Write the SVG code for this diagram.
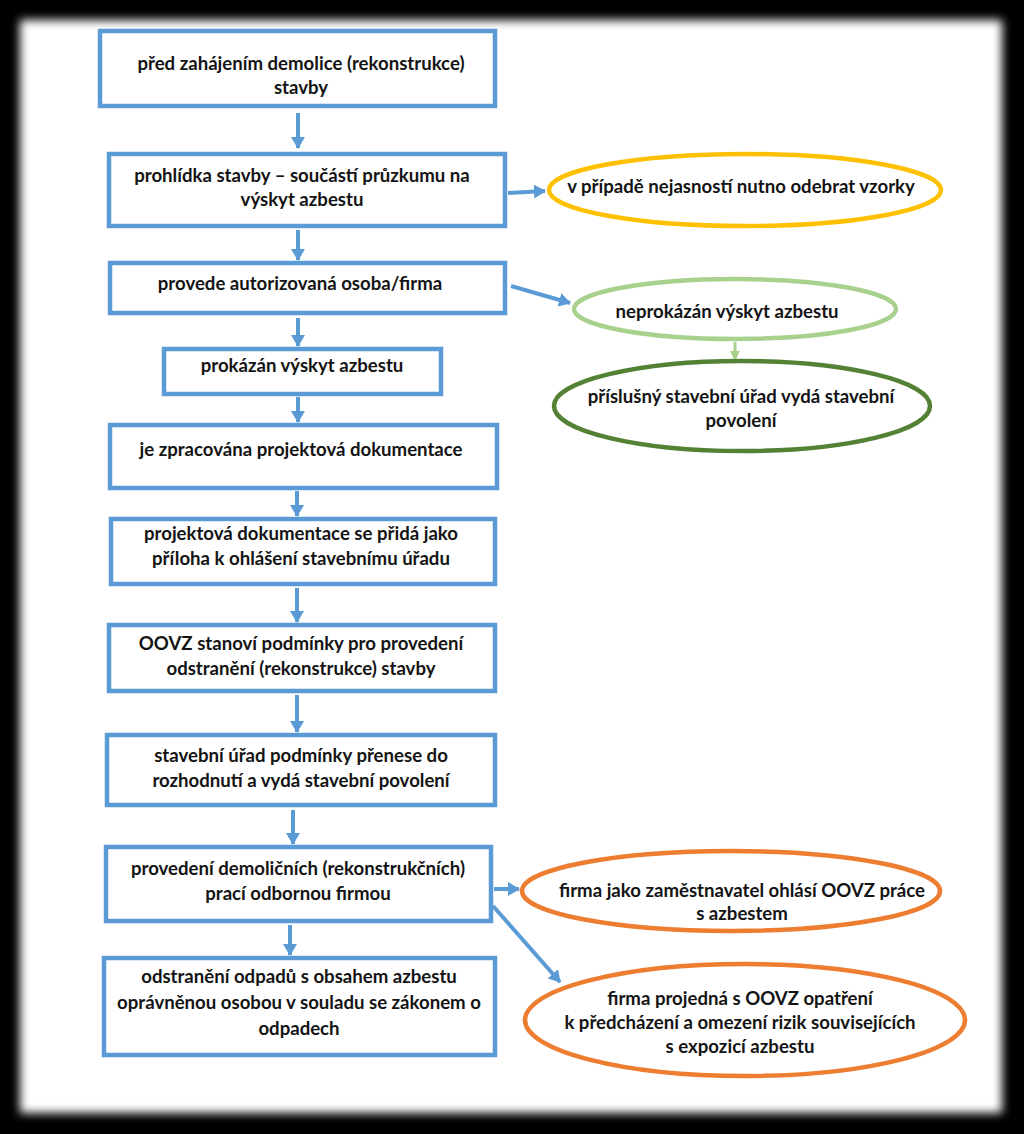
<svg xmlns="http://www.w3.org/2000/svg" width="1024" height="1134" viewBox="0 0 1024 1134">
<defs>
<filter id="soft" x="-5%" y="-5%" width="110%" height="110%"><feGaussianBlur stdDeviation="5"/></filter>
<marker id="ab" markerUnits="userSpaceOnUse" markerWidth="14" markerHeight="14" refX="11" refY="7" orient="auto"><path d="M0,0 L12,7 L0,14 Z" fill="#5B9BD5"/></marker>
<marker id="ag" markerUnits="userSpaceOnUse" markerWidth="12" markerHeight="12" refX="9" refY="5" orient="auto"><path d="M0,0 L10,5 L0,10 Z" fill="#A9D18E"/></marker>
<style>
.box{fill:#fff;stroke:#5B9BD5;stroke-width:4.5}
.el{fill:#fff;stroke-width:4.5}
.t{font-family:Lato,"Liberation Sans",sans-serif;font-weight:bold;font-size:18.6px;fill:#141414;text-anchor:middle}
.c{stroke:#5B9BD5;stroke-width:4;fill:none;marker-end:url(#ab)}
</style>
</defs>
<rect width="1024" height="1134" fill="#000"/>
<rect x="20" y="20" width="982" height="1093" fill="#fff" filter="url(#soft)"/>
<g id="connectors">
<line class="c" x1="298" y1="113" x2="298" y2="148"/>
<line class="c" x1="298" y1="230" x2="298" y2="260"/>
<line class="c" x1="298" y1="318" x2="298" y2="346"/>
<line class="c" x1="298" y1="397" x2="298" y2="422"/>
<line class="c" x1="297" y1="491" x2="297" y2="516"/>
<line class="c" x1="297" y1="588" x2="297" y2="622"/>
<line class="c" x1="297" y1="695" x2="297" y2="732"/>
<line class="c" x1="293" y1="810" x2="293" y2="844"/>
<line class="c" x1="290" y1="925" x2="290" y2="955"/>
<line class="c" x1="508" y1="193" x2="545" y2="191"/>
<line class="c" x1="511" y1="286" x2="570" y2="303"/>
<line class="c" x1="494" y1="889" x2="519" y2="889"/>
<line class="c" x1="493" y1="906" x2="560" y2="982"/>
<line x1="735" y1="342" x2="735" y2="360" stroke="#A9D18E" stroke-width="3" marker-end="url(#ag)"/>
</g>
<g id="n1"><rect class="box" x="100" y="31" width="395" height="75"/><text class="t" x="301" y="70">před zahájením demolice (rekonstrukce)</text><text class="t" x="301" y="94">stavby</text></g>
<g id="n2"><rect class="box" x="109" y="154" width="396" height="72"/><text class="t" x="302" y="182">prohlídka stavby – součástí průzkumu na</text><text class="t" x="302" y="206">výskyt azbestu</text></g>
<g id="n3"><rect class="box" x="110" y="263" width="395" height="50"/><text class="t" x="300" y="290">provede autorizovaná osoba/firma</text></g>
<g id="n4"><rect class="box" x="164" y="349" width="277" height="45"/><text class="t" x="302" y="372">prokázán výskyt azbestu</text></g>
<g id="n5"><rect class="box" x="110" y="425" width="387" height="63"/><text class="t" x="301" y="456">je zpracována projektová dokumentace</text></g>
<g id="n6"><rect class="box" x="111" y="519" width="384" height="65"/><text class="t" x="301" y="540">projektová dokumentace se přidá jako</text><text class="t" x="301" y="565">příloha k ohlášení stavebnímu úřadu</text></g>
<g id="n7"><rect class="box" x="109" y="625" width="386" height="66"/><text class="t" x="301" y="650">OOVZ stanoví podmínky pro provedení</text><text class="t" x="301" y="675">odstranění (rekonstrukce) stavby</text></g>
<g id="n8"><rect class="box" x="107" y="735" width="388" height="70"/><text class="t" x="301" y="762">stavební úřad podmínky přenese do</text><text class="t" x="301" y="787">rozhodnutí a vydá stavební povolení</text></g>
<g id="n9"><rect class="box" x="106" y="847" width="385" height="74"/><text class="t" x="298" y="875">provedení demoličních (rekonstrukčních)</text><text class="t" x="298" y="900">prací odbornou firmou</text></g>
<g id="n10"><rect class="box" x="104" y="958" width="391" height="97"/><text class="t" x="299" y="983">odstranění odpadů s obsahem azbestu</text><text class="t" x="299" y="1009">oprávněnou osobou v souladu se zákonem o</text><text class="t" x="299" y="1035">odpadech</text></g>
<g id="e1"><ellipse class="el" stroke="#FFC000" cx="745" cy="190" rx="196" ry="36"/><text class="t" x="741" y="193">v případě nejasností nutno odebrat vzorky</text></g>
<g id="e2"><ellipse class="el" stroke="#A9D18E" cx="735" cy="309" rx="161" ry="30"/><text class="t" x="727" y="318">neprokázán výskyt azbestu</text></g>
<g id="e3"><ellipse class="el" stroke="#548235" cx="742" cy="406" rx="188" ry="45"/><text class="t" x="741" y="403">příslušný stavební úřad vydá stavební</text><text class="t" x="741" y="427">povolení</text></g>
<g id="e4"><ellipse class="el" stroke="#ED7D31" cx="731" cy="891" rx="209" ry="40"/><text class="t" x="742" y="897">firma jako zaměstnavatel ohlásí OOVZ práce</text><text class="t" x="742" y="920">s azbestem</text></g>
<g id="e5"><ellipse class="el" stroke="#ED7D31" cx="745" cy="1020" rx="220" ry="56"/><text class="t" x="740" y="1005">firma projedná s OOVZ opatření</text><text class="t" x="740" y="1029">k předcházení a omezení rizik souvisejících</text><text class="t" x="740" y="1053">s expozicí azbestu</text></g>
</svg>
